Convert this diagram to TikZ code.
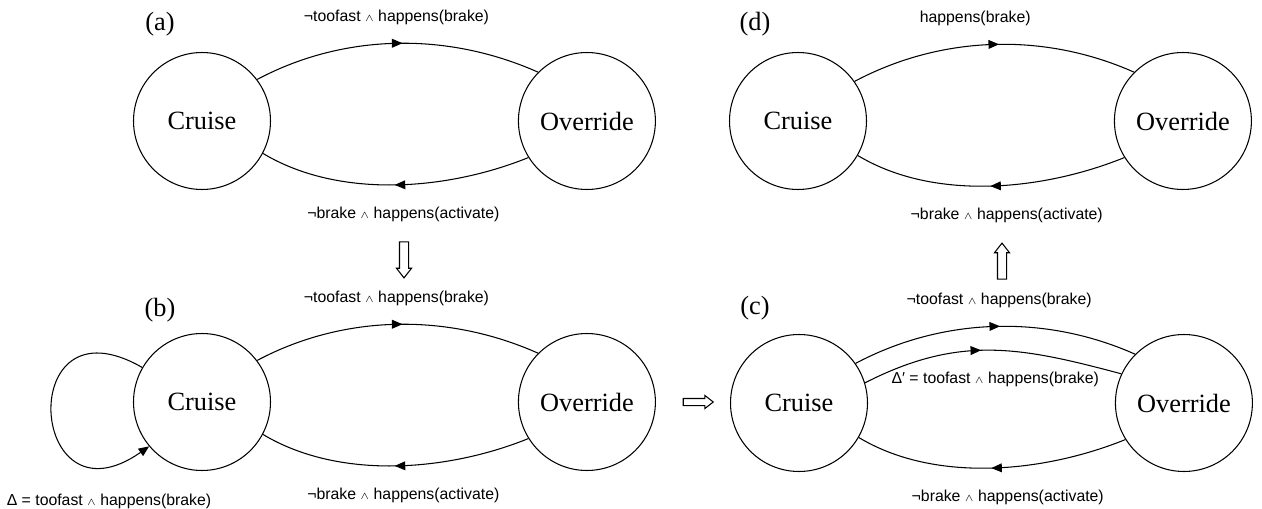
\documentclass[tikz,border=0pt]{standalone}
\usepackage{fontspec}
\setmainfont{Liberation Serif}
\setsansfont{Liberation Sans}
\usetikzlibrary{automata, arrows.meta, positioning, decorations.markings, shapes.arrows}

\newcommand{\wand}{\ensuremath{\scriptstyle\wedge}}

\tikzset{
  every state/.style = {draw, line width=0.6pt, minimum size=2.74cm, inner sep=0pt, font=\fontsize{15}{18}\selectfont},
  lbl/.style = {inner sep=0pt, font=\sffamily\fontsize{9}{11}\selectfont},
  tag/.style = {font=\fontsize{15}{18}\selectfont},
  midarrow/.style = {postaction={decorate}, decoration={markings, mark=at position #1 with {\arrow{Triangle[length=6pt, width=5pt]}}}},
  midarrow/.default = .5,
  hollow/.style = {single arrow, draw, minimum height=0.72cm, inner sep=0.08cm, single arrow head extend=0.06cm, single arrow tip angle=76}
}

\begin{document}
\begin{tikzpicture} [x=0.02cm, y=0.02cm, line width=0.6pt, node distance=7.7cm, on grid]
    \useasboundingbox (0,0) rectangle (1262,508);

    % (a)
    \node (tagA) [tag] at (160,484) {(a)};
    \node (cruiseA) [state] at (202,387) {Cruise};
    \node (overA) [state, right = of cruiseA] {Override};
    \path (cruiseA.37) edge [out=28, in=156, looseness=.9, midarrow=.52] node [lbl, above=.36cm] {¬toofast \wand{} happens(brake)} (overA.135);
    \path (overA.212) edge [out=202, in=-31, looseness=.85, midarrow] node [lbl, below=.43cm, xshift=.2cm] {¬brake \wand{} happens(activate)} (cruiseA.-28);

    % (b)
    \node (tagB) [tag] at (160,198) {(b)};
    \node (cruiseB) [state] at (202,106) {Cruise};
    \node (overB) [state, right = of cruiseB] {Override};
    \path (cruiseB.37) edge [out=28, in=156, looseness=.9, midarrow=.52] node [lbl, above=.36cm] {¬toofast \wand{} happens(brake)} (overB.135);
    \path (overB.212) edge [out=202, in=-31, looseness=.85, midarrow] node [lbl, below=.43cm, xshift=.2cm] {¬brake \wand{} happens(activate)} (cruiseB.-28);
    \path (cruiseB.150) edge [out=150, in=215, looseness=4.8, -{Triangle[length=6pt, width=5pt]}] node [lbl, pos=.9, below=.62cm, xshift=-.14cm] {Δ = toofast \wand{} happens(brake)} (cruiseB.220);

    % (c)
    \node (tagC) [tag] at (755,200) {(c)};
    \node (cruiseC) [state] at (799,105) {Cruise};
    \node (overC) [state, right = of cruiseC] {Override};
    \path (cruiseC.35) edge [out=28, in=156, looseness=.9, midarrow=.52] node [lbl, above=.36cm, xshift=.1cm] {¬toofast \wand{} happens(brake)} (overC.135);
    \path (cruiseC.17) edge [out=27, in=165, looseness=1.05, midarrow=.46] node [lbl, below=.42cm, xshift=.1cm] {Δ′ = toofast \wand{} happens(brake)} (overC.155);
    \path (overC.212) edge [out=202, in=-31, looseness=.85, midarrow] node [lbl, below=.43cm, xshift=.36cm] {¬brake \wand{} happens(activate)} (cruiseC.-30);

    % (d)
    \node (tagD) [tag] at (755,484) {(d)};
    \node (cruiseD) [state] at (798,387) {Cruise};
    \node (overD) [state, right = of cruiseD] {Override};
    \path (cruiseD.35) edge [out=28, in=156, looseness=.9, midarrow=.52] node [lbl, above=.36cm, xshift=-.36cm] {happens(brake)} (overD.135);
    \path (overD.212) edge [out=202, in=-31, looseness=.85, midarrow] node [lbl, below=.43cm, xshift=.36cm] {¬brake \wand{} happens(activate)} (cruiseD.-30);

    % steps between panels
    \node (stepAB) [hollow, rotate=-90] at (404,251) {};
    \node (stepBC) [hollow, minimum height=0.6cm, inner sep=0.06cm] at (696,106) {};
    \node (stepCD) [hollow, rotate=90] at (1002,244) {};
\end{tikzpicture}
\end{document}
